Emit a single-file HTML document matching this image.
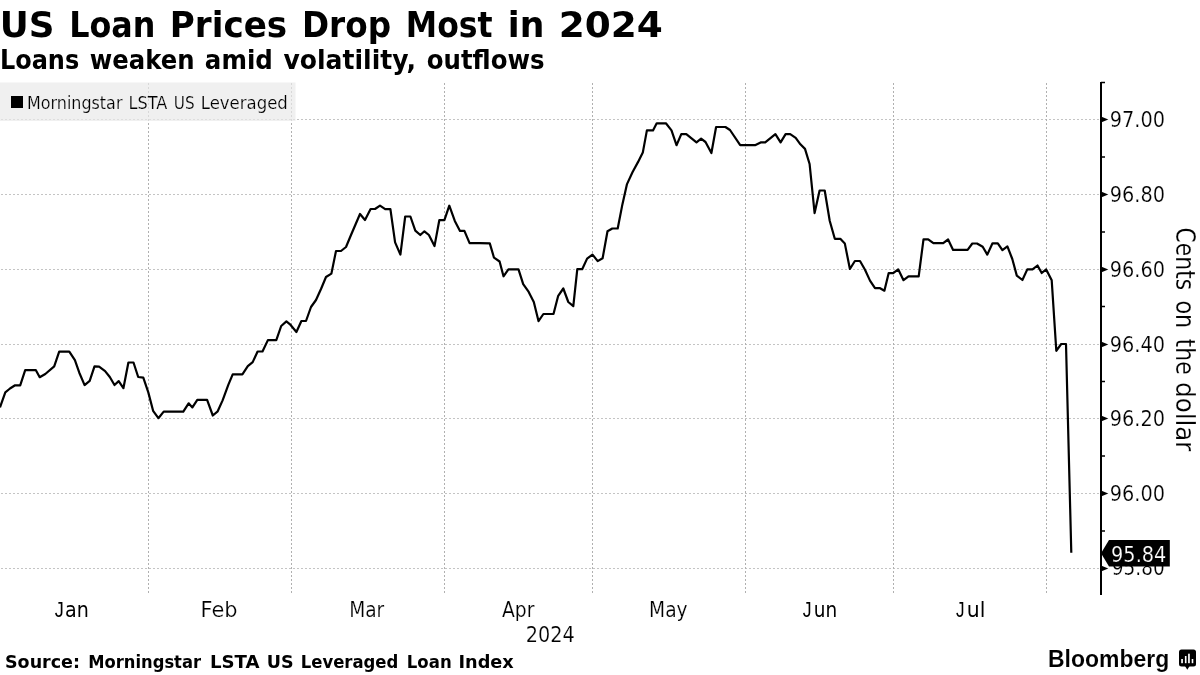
<!DOCTYPE html>
<html><head><meta charset="utf-8"><title>US Loan Prices Drop Most in 2024</title><style>
html,body{margin:0;padding:0;background:#fff;}
body{width:1200px;height:675px;overflow:hidden;position:relative;}
svg{position:absolute;left:0;top:0;display:block;will-change:transform;}
</style></head><body>
<svg width="1200" height="675" viewBox="0 0 1200 675">
<rect width="1200" height="675" fill="#fff"/>
<g stroke-width="1" stroke-dasharray="2 2" fill="none">
<g stroke="#c4c4c4"><line x1="1" y1="119.5" x2="1099" y2="119.5"/><line x1="1" y1="194.5" x2="1099" y2="194.5"/><line x1="1" y1="269.5" x2="1099" y2="269.5"/><line x1="1" y1="344.5" x2="1099" y2="344.5"/><line x1="1" y1="418.5" x2="1099" y2="418.5"/><line x1="1" y1="493.5" x2="1099" y2="493.5"/><line x1="1" y1="568.5" x2="1099" y2="568.5"/></g>
<g stroke="#b0b0b0"><line x1="148.5" y1="83" x2="148.5" y2="594"/><line x1="291.5" y1="83" x2="291.5" y2="594"/><line x1="444.5" y1="83" x2="444.5" y2="594"/><line x1="592.5" y1="83" x2="592.5" y2="594"/><line x1="745.5" y1="83" x2="745.5" y2="594"/><line x1="893.5" y1="83" x2="893.5" y2="594"/><line x1="1046.5" y1="83" x2="1046.5" y2="594"/></g>
</g>
<rect x="0" y="82.5" width="295.5" height="38.5" fill="#eaeaea" fill-opacity="0.7"/>
<rect x="11" y="96" width="12" height="12" fill="#000"/>
<path d="M0,407.4 L5.3,392.3 L10,388.5 L15.1,385.3 L20.2,385.3 L25.2,370.2 L35.9,370.2 L39.7,377.2 L45.3,374 L54.2,366.4 L59.2,351.6 L69.3,351.6 L74.9,360.2 L79.3,372.7 L84.6,385.1 L89.7,380.9 L94.5,366.4 L99.1,366.6 L105.1,371.1 L109.8,377 L114.5,385 L118.7,381.1 L123.4,388.2 L128.4,362.5 L133.5,362.5 L138.2,377 L143.3,377.6 L148.3,392.4 L153.1,410.8 L158.4,418.2 L163.7,411.6 L183.3,411.6 L188.6,403.3 L192.4,407.4 L197.3,399.9 L207.1,399.9 L212.8,415.5 L217.7,411.3 L222.6,400.4 L228.3,384.9 L232.7,374.3 L242.4,374.3 L247.8,366.2 L252.7,362.1 L257.6,351.5 L262.5,351.5 L267.9,340.1 L276.3,340.1 L281.2,326 L286.4,321.4 L290,324.3 L296.4,332 L301.4,321 L306,321 L311,307 L316,300 L321,289 L326,277 L331.4,273.6 L336,251 L341,251 L346,247 L351,235 L360,214 L365,220 L370.6,209 L375,209 L380,205.6 L385.2,209.1 L390.4,209.1 L395.1,242.4 L400.4,254.6 L405.2,216.5 L410.4,216.5 L415.3,230.6 L420.3,235 L424.4,231.3 L428.9,235 L434.5,246.1 L439.3,220.2 L444.4,220.2 L449.3,205.7 L454.8,220.9 L460,230.9 L464.4,230.9 L469.6,243.1 L480,243.1 L489.8,243.4 L494,257.7 L499.6,261.5 L503.5,276.3 L508.4,269.3 L518.5,269.3 L523.2,284.1 L528.7,291.9 L533.8,302 L538.5,321.1 L543.4,314 L553.5,314 L558.2,295.8 L563.3,288.5 L568.3,302 L573.3,306.2 L577.3,269.2 L582.2,269.2 L587.1,258.6 L592.5,254.6 L597.7,261.1 L602.6,258.3 L607.5,231.3 L612.3,228.5 L617.7,228.5 L622.4,204.4 L627,184.1 L632.6,172 L638.1,161.9 L642.8,152.6 L646.9,130.4 L653,130.4 L656.7,123.3 L665.9,123.3 L671.5,130.4 L676.5,145.2 L681.3,134.1 L686.3,134.1 L696.5,142.4 L701.1,138.7 L705.5,142 L711.4,153 L716.1,127 L725.4,127 L730,130 L740.2,145.2 L755,145.2 L760.6,142.4 L765.2,142.4 L775.4,134.1 L780.6,142.4 L785.6,134.1 L790.2,134.1 L795.7,137.8 L800.4,144.3 L805,148.9 L809.6,164 L814.6,213.1 L819.6,190.5 L824.7,190.5 L829.7,220.7 L834.8,238.8 L840.3,238.8 L844.8,243.4 L849.9,269 L854.9,261 L860,261 L865,269.8 L870,280.6 L875,288.2 L880.1,288.2 L884.4,290.7 L888.7,273.1 L893.2,273.1 L898.2,269.3 L903.5,280.2 L908.5,276.3 L918.7,276.3 L923.5,239.3 L928.2,239.3 L933.4,243.2 L943.2,243.2 L948.1,239.5 L953.1,249.9 L967.6,249.9 L972.3,243.5 L977,243.5 L982.7,246.8 L987.3,254.6 L992.5,243.3 L997.8,243.3 L1002.4,250.2 L1007.4,246.4 L1012.3,259 L1016.8,275.6 L1022.4,280 L1027.3,269.4 L1032.5,269.4 L1037.5,265.5 L1041.7,273 L1046.2,269.4 L1051.7,280.3 L1056.3,350.8 L1061.2,344 L1066,344 L1071.3,552.7" fill="none" stroke="#000" stroke-width="2.2" stroke-linejoin="round" stroke-linecap="butt"/>
<g fill="#000"><rect x="1100" y="82" width="2" height="513"/><path d="M1101 116.5 L1108.3 119.5 L1101 122.5Z"/><path d="M1101 191.5 L1108.3 194.5 L1101 197.5Z"/><path d="M1101 266.5 L1108.3 269.5 L1101 272.5Z"/><path d="M1101 341.5 L1108.3 344.5 L1101 347.5Z"/><path d="M1101 415.5 L1108.3 418.5 L1101 421.5Z"/><path d="M1101 490.5 L1108.3 493.5 L1101 496.5Z"/><path d="M1101 565.5 L1108.3 568.5 L1101 571.5Z"/></g>
<g stroke="#000" stroke-width="1.5"><line x1="1101" y1="82.5" x2="1105" y2="82.5"/><line x1="1101" y1="157" x2="1105" y2="157"/><line x1="1101" y1="232" x2="1105" y2="232"/><line x1="1101" y1="306.5" x2="1105" y2="306.5"/><line x1="1101" y1="381.5" x2="1105" y2="381.5"/><line x1="1101" y1="456" x2="1105" y2="456"/><line x1="1101" y1="531" x2="1105" y2="531"/></g>
<g style="font-family:'DejaVu Sans',sans-serif;font-size:35px;font-weight:bold" fill="#000"><text x="-0.37" y="36.8" textLength="54.81" lengthAdjust="spacingAndGlyphs">US</text><text x="69.28" y="36.8" textLength="86.19" lengthAdjust="spacingAndGlyphs">Loan</text><text x="169.82" y="36.8" textLength="117.38" lengthAdjust="spacingAndGlyphs">Prices</text><text x="301.95" y="36.8" textLength="89.13" lengthAdjust="spacingAndGlyphs">Drop</text><text x="405.80" y="36.8" textLength="86.81" lengthAdjust="spacingAndGlyphs">Most</text><text x="507.77" y="36.8" textLength="36.53" lengthAdjust="spacingAndGlyphs">in</text><text x="558.66" y="36.8" textLength="104.16" lengthAdjust="spacingAndGlyphs">2024</text></g>
<g style="font-family:'DejaVu Sans',sans-serif;font-size:26px;font-weight:bold" fill="#000"><text x="-0.04" y="69.0" textLength="79.24" lengthAdjust="spacingAndGlyphs">Loans</text><text x="89.81" y="69.0" textLength="104.75" lengthAdjust="spacingAndGlyphs">weaken</text><text x="204.86" y="69.0" textLength="67.94" lengthAdjust="spacingAndGlyphs">amid</text><text x="283.50" y="69.0" textLength="132.57" lengthAdjust="spacingAndGlyphs">volatility,</text><text x="426.81" y="69.0" textLength="117.79" lengthAdjust="spacingAndGlyphs">outflows</text></g>
<g style="font-family:'DejaVu Sans',sans-serif;font-size:17px;font-weight:normal" fill="#000" stroke="#f0f0f0" stroke-width="0.2"><text x="26.96" y="108.7" textLength="95.52" lengthAdjust="spacingAndGlyphs">Morningstar</text><text x="128.55" y="108.7" textLength="38.82" lengthAdjust="spacingAndGlyphs">LSTA</text><text x="173.80" y="108.7" textLength="20.81" lengthAdjust="spacingAndGlyphs">US</text><text x="200.73" y="108.7" textLength="87.09" lengthAdjust="spacingAndGlyphs">Leveraged</text></g>
<g style="font-family:'DejaVu Sans',sans-serif;font-size:17.5px;font-weight:bold" fill="#000"><text x="5.00" y="667.5" textLength="74.97" lengthAdjust="spacingAndGlyphs">Source:</text><text x="88.32" y="667.5" textLength="112.69" lengthAdjust="spacingAndGlyphs">Morningstar</text><text x="209.96" y="667.5" textLength="49.67" lengthAdjust="spacingAndGlyphs">LSTA</text><text x="266.70" y="667.5" textLength="26.88" lengthAdjust="spacingAndGlyphs">US</text><text x="300.76" y="667.5" textLength="97.57" lengthAdjust="spacingAndGlyphs">Leveraged</text><text x="406.80" y="667.5" textLength="44.87" lengthAdjust="spacingAndGlyphs">Loan</text><text x="458.49" y="667.5" textLength="55.28" lengthAdjust="spacingAndGlyphs">Index</text></g>
<g style="font-family:'DejaVu Sans',sans-serif;font-size:21px;font-weight:normal" fill="#000" stroke="#fff" stroke-width="0.2"><text x="1109.78" y="126.6" textLength="55.25" lengthAdjust="spacingAndGlyphs">97.00</text></g>
<g style="font-family:'DejaVu Sans',sans-serif;font-size:21px;font-weight:normal" fill="#000" stroke="#fff" stroke-width="0.2"><text x="1109.78" y="201.6" textLength="55.25" lengthAdjust="spacingAndGlyphs">96.80</text></g>
<g style="font-family:'DejaVu Sans',sans-serif;font-size:21px;font-weight:normal" fill="#000" stroke="#fff" stroke-width="0.2"><text x="1109.78" y="276.6" textLength="55.25" lengthAdjust="spacingAndGlyphs">96.60</text></g>
<g style="font-family:'DejaVu Sans',sans-serif;font-size:21px;font-weight:normal" fill="#000" stroke="#fff" stroke-width="0.2"><text x="1109.78" y="351.6" textLength="55.25" lengthAdjust="spacingAndGlyphs">96.40</text></g>
<g style="font-family:'DejaVu Sans',sans-serif;font-size:21px;font-weight:normal" fill="#000" stroke="#fff" stroke-width="0.2"><text x="1109.78" y="425.6" textLength="55.25" lengthAdjust="spacingAndGlyphs">96.20</text></g>
<g style="font-family:'DejaVu Sans',sans-serif;font-size:21px;font-weight:normal" fill="#000" stroke="#fff" stroke-width="0.2"><text x="1109.78" y="500.6" textLength="55.25" lengthAdjust="spacingAndGlyphs">96.00</text></g>
<g style="font-family:'DejaVu Sans',sans-serif;font-size:21px;font-weight:normal" fill="#000" stroke="#fff" stroke-width="0.2"><text x="1111.82" y="575.3" textLength="52.87" lengthAdjust="spacingAndGlyphs">95.80</text></g>
<g style="font-family:'Liberation Sans',sans-serif;font-size:22px;font-weight:normal" fill="#000"><text x="54.70" y="616.8" textLength="9.02" lengthAdjust="spacingAndGlyphs">J</text></g>
<g style="font-family:'DejaVu Sans',sans-serif;font-size:21px;font-weight:normal" fill="#000"><text x="65.09" y="616.8" textLength="23.79" lengthAdjust="spacingAndGlyphs">an</text></g>
<g style="font-family:'DejaVu Sans',sans-serif;font-size:21px;font-weight:normal" fill="#000" stroke="#fff" stroke-width="0.2"><text x="200.61" y="616.8" textLength="36.97" lengthAdjust="spacingAndGlyphs">Feb</text></g>
<g style="font-family:'DejaVu Sans',sans-serif;font-size:21px;font-weight:normal" fill="#000" stroke="#fff" stroke-width="0.2"><text x="349.23" y="616.8" textLength="35.04" lengthAdjust="spacingAndGlyphs">Mar</text></g>
<g style="font-family:'DejaVu Sans',sans-serif;font-size:21px;font-weight:normal" fill="#000" stroke="#fff" stroke-width="0.2"><text x="501.90" y="616.8" textLength="32.51" lengthAdjust="spacingAndGlyphs">Apr</text></g>
<g style="font-family:'DejaVu Sans',sans-serif;font-size:21px;font-weight:normal" fill="#000" stroke="#fff" stroke-width="0.2"><text x="649.12" y="616.8" textLength="38.55" lengthAdjust="spacingAndGlyphs">May</text></g>
<g style="font-family:'Liberation Sans',sans-serif;font-size:22px;font-weight:normal" fill="#000"><text x="802.80" y="616.8" textLength="8.80" lengthAdjust="spacingAndGlyphs">J</text></g>
<g style="font-family:'DejaVu Sans',sans-serif;font-size:21px;font-weight:normal" fill="#000"><text x="813.72" y="616.8" textLength="23.41" lengthAdjust="spacingAndGlyphs">un</text></g>
<g style="font-family:'Liberation Sans',sans-serif;font-size:22px;font-weight:normal" fill="#000"><text x="956.00" y="616.8" textLength="8.53" lengthAdjust="spacingAndGlyphs">J</text></g>
<g style="font-family:'DejaVu Sans',sans-serif;font-size:21px;font-weight:normal" fill="#000"><text x="966.78" y="616.8" textLength="18.59" lengthAdjust="spacingAndGlyphs">ul</text></g>
<g style="font-family:'DejaVu Sans',sans-serif;font-size:21px;font-weight:normal" fill="#000" stroke="#fff" stroke-width="0.2"><text x="525.78" y="642.1" textLength="49.05" lengthAdjust="spacingAndGlyphs">2024</text></g>
<g style="font-family:'Liberation Sans',sans-serif;font-size:23px;font-weight:bold" fill="#000" stroke="#fff" stroke-width="0.08"><text x="1048.00" y="667" textLength="121.19" lengthAdjust="spacingAndGlyphs">Bloomberg</text></g>
<g transform="translate(1175.7,0) rotate(90)" style="font-family:'DejaVu Sans',sans-serif;font-size:26px" fill="#000" stroke="#fff" stroke-width="0.2"><text x="227.46" y="0" textLength="62.70" lengthAdjust="spacingAndGlyphs">Cents</text><text x="300.44" y="0" textLength="27.86" lengthAdjust="spacingAndGlyphs">on</text><text x="338.70" y="0" textLength="36.07" lengthAdjust="spacingAndGlyphs">the</text><text x="382.16" y="0" textLength="69.16" lengthAdjust="spacingAndGlyphs">dollar</text></g>
<path d="M1101 553.2 L1109 540 L1169.8 540 L1169.8 566.5 L1109 566.5 Z" fill="#000"/>
<g style="font-family:'DejaVu Sans',sans-serif;font-size:21px;font-weight:normal" fill="#fff" stroke="#000" stroke-width="0.2"><text x="1111.08" y="562" textLength="55.25" lengthAdjust="spacingAndGlyphs">95.84</text></g>
<g>
<rect x="1179" y="649.5" width="17" height="17" rx="2.5" fill="#000"/>
<path d="M1185 666 L1187.3 669.8 L1189.6 666 Z" fill="#000"/>
<g fill="#fff">
<rect x="1181.2" y="659" width="1.7" height="4.2"/>
<rect x="1184.9" y="656" width="1.6" height="7.2"/>
<rect x="1188.1" y="653.7" width="1.7" height="9.5"/>
<rect x="1191.7" y="659" width="1.6" height="4.2"/>
</g>
</g>
</svg>
</body></html>
